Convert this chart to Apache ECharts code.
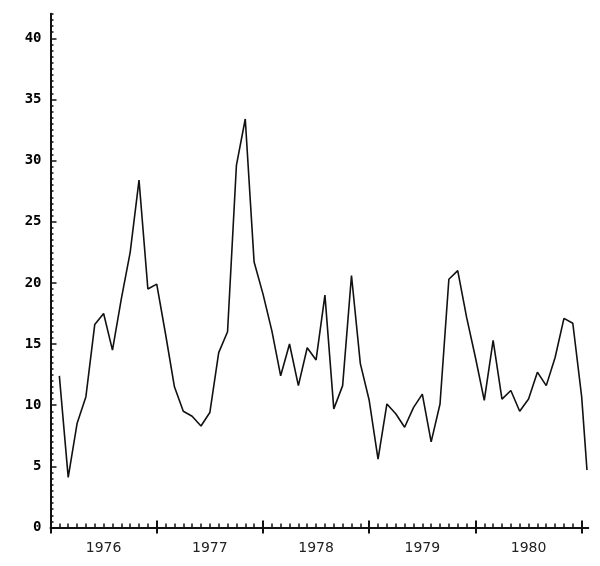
<!DOCTYPE html>
<html>
<head>
<meta charset="utf-8">
<script src="https://cdn.jsdelivr.net/npm/echarts@6/dist/echarts.min.js"></script>
<style>
  html, body { margin: 0; padding: 0; background: #ffffff; }
  #chart { width: 600px; height: 566px; }
</style>
</head>
<body>
<div id="chart"></div>
<script>
// Months counted from the start of January 1976 (axis start = 0)
const months = [
  1, 2, 3, 4, 5, 6, 7, 8, 9, 10, 11, 12,
  13, 14, 15, 16, 17, 18, 19, 20, 21, 22, 23, 24,
  25, 26, 27, 28, 29, 30, 31, 32, 33, 34, 35, 36,
  37, 38, 39, 40, 41, 42, 43, 44, 45, 46, 47, 48,
  49, 50, 51, 52, 53, 54, 55, 56, 57, 58, 59, 60,
  60.6
];
const values = [
  12.4, 4.1, 8.5, 10.7, 16.6, 17.5, 14.5, 18.7, 22.5, 28.4, 19.5, 19.9,
  15.8, 11.5, 9.5, 9.1, 8.3, 9.4, 14.3, 16.0, 29.6, 33.4, 21.7, 19.1,
  16.1, 12.4, 15.0, 11.6, 14.7, 13.7, 19.0, 9.7, 11.6, 20.6, 13.4, 10.4,
  5.6, 10.1, 9.3, 8.2, 9.8, 10.9, 7.0, 10.1, 20.3, 21.0, 17.2, 13.9,
  10.4, 15.3, 10.5, 11.2, 9.5, 10.5, 12.7, 11.6, 13.9, 17.1, 16.7, 10.7,
  4.7
];
const yearLabels = ['1976', '1977', '1978', '1979', '1980'];
const yearLabelPos = [6, 18, 30, 42, 54];      // mid-year, in months
const yearTickPos = [0, 12, 24, 36, 48, 60];   // year boundaries, in months
const yTickLabels = ['0', '5', '10', '15', '20', '25', '30', '35', '40'];

const X_MIN = 0, X_MAX = 60.75, Y_MIN = 0, Y_MAX = 42;
const ink = '#111111';

const monthTickPos = [];
for (let m = 0; m <= 60; m++) monthTickPos.push(m);

const seriesData = months.map((m, i) => [m, values[i]]);

const chart = echarts.init(document.getElementById('chart'), null, { renderer: 'canvas' });

const baseX = {
  type: 'value', min: X_MIN, max: X_MAX, position: 'bottom', offset: 0,
  splitLine: { show: false }, axisLine: { show: false }, axisLabel: { show: false },
  axisTick: { show: false }
};
const baseY = {
  type: 'value', min: Y_MIN, max: Y_MAX, position: 'left', offset: 0,
  splitLine: { show: false }, axisLine: { show: false }, axisLabel: { show: false },
  axisTick: { show: false }
};

chart.setOption({
  animation: false,
  backgroundColor: '#ffffff',
  grid: { left: 50.5, right: 11.7, top: 13.8, bottom: 38.5, containLabel: false },
  xAxis: [
    Object.assign({}, baseX, {
      axisLine: { show: true, onZero: false, lineStyle: { color: ink, width: 2 } },
      axisTick: { show: true, inside: true, length: 4, customValues: monthTickPos,
                  lineStyle: { color: ink, width: 1.5 } },
      axisLabel: {
        show: true, margin: 14, color: '#222', fontFamily: 'DejaVu Sans', fontSize: 14,
        customValues: yearLabelPos,
        formatter: function (v) {
          const idx = yearLabelPos.indexOf(Math.round(v));
          return idx >= 0 ? yearLabels[idx] : '';
        }
      }
    }),
    Object.assign({}, baseX, {
      axisTick: { show: true, inside: true, length: 7, customValues: yearTickPos,
                  lineStyle: { color: ink, width: 2 } }
    }),
    Object.assign({}, baseX, {
      axisTick: { show: true, inside: false, length: 6, customValues: yearTickPos,
                  lineStyle: { color: ink, width: 2 } }
    })
  ],
  yAxis: [
    Object.assign({}, baseY, {
      interval: 5,
      axisLine: { show: true, onZero: false, lineStyle: { color: ink, width: 2 } },
      axisTick: { show: true, inside: true, length: 6, lineStyle: { color: ink, width: 1.5 } },
      axisLabel: {
        show: true, margin: 9, color: '#000', fontFamily: 'DejaVu Sans Mono', fontWeight: 'bold',
        fontSize: 14, showMaxLabel: false,
        formatter: function (v) {
          const idx = Math.round(v / 5);
          if (Math.abs(v - idx * 5) > 1e-6) return '';
          return yTickLabels[idx] || '';
        }
      }
    }),
    Object.assign({}, baseY, {
      interval: 0.5,
      axisTick: { show: true, inside: true, length: 3, lineStyle: { color: ink, width: 1.5 } }
    })
  ],
  series: [{
    type: 'line',
    xAxisIndex: 0,
    yAxisIndex: 0,
    data: seriesData,
    showSymbol: false,
    symbol: 'none',
    lineStyle: { color: ink, width: 1.6 },
    silent: true
  }]
});
</script>
</body>
</html>
